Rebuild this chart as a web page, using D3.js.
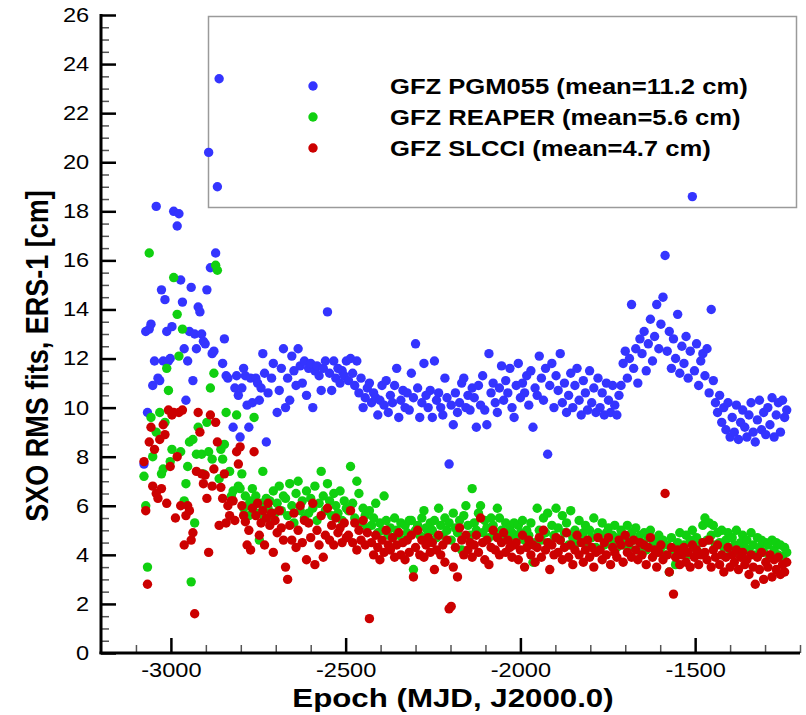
<!DOCTYPE html>
<html><head><meta charset="utf-8">
<script src="https://cdn.jsdelivr.net/npm/d3@7"></script>
<style>html,body{margin:0;padding:0;background:#fff;}</style>
</head><body><svg id="c" width="806" height="715"></svg>
<script>
// Epochs (MJD, J2000.0)
const epochs = [
-3077,-3072,-3067,-3062,-3057,-3052,-3047,-3042,
-3037,-3032,-3027,-3022,-3017,-3012,-3007,-3002,
-2997,-2992,-2987,-2982,-2977,-2972,-2967,-2962,
-2957,-2952,-2947,-2942,-2937,-2932,-2927,-2922,
-2917,-2912,-2907,-2902,-2897,-2892,-2887,-2882,
-2877,-2872,-2867,-2862,-2857,-2852,-2847,-2842,
-2837,-2832,-2827,-2822,-2817,-2812,-2807,-2802,
-2797,-2792,-2787,-2782,-2777,-2772,-2767,-2762,
-2757,-2752,-2747,-2742,-2737,-2732,-2727,-2722,
-2717,-2712,-2707,-2702,-2696,-2690,-2684,-2678,
-2672,-2666,-2660,-2654,-2648,-2642,-2636,-2630,-2624,-2618,
-2612,-2606,-2600,-2594,-2588,-2582,-2576,-2570,-2564,-2558,
-2552,-2546,-2540,-2534,-2528,-2522,-2516,-2510,-2504,-2498,
-2492,-2486,-2480,-2474,-2468,-2462,-2456,-2450,-2444,-2438,
-2432,-2426,-2420,-2414,-2408,-2402,-2396,-2390,-2384,-2378,
-2372,-2366,-2360,-2354,-2348,-2342,-2336,-2330,-2324,-2318,
-2312,-2306,-2300,-2294,-2288,-2282,-2276,-2270,-2264,-2258,
-2252,-2246,-2240,-2234,-2228,-2222,-2216,-2210,-2204,-2198,
-2192,-2186,-2180,-2174,-2168,-2162,-2156,-2150,-2144,-2138,
-2132,-2126,-2120,-2114,-2108,-2102,-2096,-2090,-2084,-2078,
-2072,-2066,-2060,-2054,-2048,-2042,-2036,-2030,-2024,-2018,
-2012,-2006,-2000,-1994,-1988,-1982,-1976,-1970,-1964,-1958,
-1952,-1946,-1940,-1934,-1928,-1922,-1916,-1910,-1904,-1898,
-1892,-1886,-1880,-1874,-1868,-1862,-1856,-1850,-1844,-1838,
-1832,-1826,-1820,-1814,-1808,-1802,-1796,-1790,-1784,-1778,
-1772,-1766,-1760,-1754,-1748,-1742,-1736,-1730,-1724,-1718,
-1712,-1706,-1700,-1694,-1688,-1682,-1676,-1670,-1664,-1658,
-1652,-1646,-1640,-1634,-1628,-1622,-1616,-1610,-1604,-1598,
-1592,-1586,-1580,-1574,-1568,-1562,-1556,-1550,-1544,-1538,
-1532,-1526,-1520,-1514,-1508,-1502,-1496,-1490,-1484,-1478,
-1472,-1466,-1460,-1454,-1448,-1442,-1436,-1430,-1424,-1418,
-1412,-1406,-1400,-1394,-1388,-1382,-1376,-1370,-1364,-1358,
-1352,-1346,-1340,-1334,-1328,-1322,-1316,-1310,-1304,-1298,
-1292,-1286,-1280,-1274,-1268,-1262,-1256,-1250,-1244,-1238
];

// GFZ PGM055 SXO RMS fits [cm]
const pgm055 = [
7.7,13.1,9.8,13.2,13.4,10.9,11.9,18.2,
11.2,11.1,14.8,11.9,14.4,13.1,11.9,12.0,
13.3,18.0,null,17.4,17.9,15.2,14.3,12.4,
10.3,11.9,13.1,14.9,11.1,13.0,12.4,14.1,
13.9,13.0,12.7,12.6,14.8,20.4,15.7,12.2,
12.3,16.3,19.0,23.4,null,11.8,12.8,11.3,
11.2,null,null,9.2,10.8,11.3,10.5,8.8,
10.8,11.6,11.3,10.1,9.2,11.2,10.2,null,
11.2,11.0,10.3,10.8,12.2,11.4,8.6,10.6,
null,11.2,11.8,null,9.8,10.7,11.6,12.4,
10.0,11.2,10.3,12.1,11.5,10.9,12.4,11.7,11.0,11.9,
10.5,11.6,11.8,10.0,11.5,11.7,11.3,10.7,11.6,11.9,
13.9,11.4,10.7,11.9,11.2,11.6,11.0,11.5,11.3,11.9,
11.1,12.0,11.4,10.9,11.9,10.6,11.2,10.0,10.4,10.8,
11.0,10.2,10.6,10.4,9.7,10.3,10.9,10.1,11.1,9.8,
10.5,10.2,10.9,11.6,9.6,10.3,10.7,10.0,10.6,9.9,
11.4,10.4,12.6,10.8,9.6,10.2,11.8,10.5,10.0,10.7,
9.6,11.9,10.3,10.6,10.0,9.7,11.2,10.4,7.7,10.1,
9.3,10.6,9.8,10.2,11.0,11.2,10.0,10.5,9.9,10.8,
10.4,9.2,10.9,10.1,11.3,9.9,9.3,12.2,10.6,11.0,
10.2,9.8,10.8,11.7,10.3,11.1,10.6,11.6,10.0,9.6,
10.9,11.8,10.4,11.0,10.6,11.3,10.1,11.5,9.2,10.8,
10.5,12.1,11.2,10.3,11.6,8.1,10.9,11.8,10.0,11.3,
10.7,12.2,10.2,11.0,9.8,10.5,11.4,10.0,10.9,11.6,
10.3,9.7,11.1,10.6,9.9,11.5,10.2,10.8,9.8,11.2,
10.0,10.6,9.7,11.0,10.3,9.8,10.9,10.1,9.7,10.5,
10.9,11.8,12.3,11.2,12.0,14.2,11.6,12.4,11.0,12.8,
12.2,13.1,11.5,12.6,13.6,11.9,12.9,14.2,12.4,13.4,
14.5,16.2,12.3,13.1,11.6,12.8,12.0,13.8,11.4,12.5,
11.8,12.9,11.2,12.3,18.6,11.5,12.6,10.9,11.9,12.2,
11.3,12.4,10.6,14.0,11.1,10.2,9.8,10.5,9.4,10.0,
9.1,10.2,8.8,9.6,9.0,10.1,8.7,9.4,9.9,9.2,
8.8,9.7,10.2,9.0,8.6,9.5,10.3,9.1,9.8,8.9,
10.0,9.3,10.4,8.8,9.7,10.2,9.0,10.3,9.6,9.9
];

// GFZ REAPER SXO RMS fits [cm]
const reaper = [
7.2,6.0,3.5,16.3,9.6,8.0,null,9.0,
null,9.8,7.3,7.5,9.4,11.6,10.7,7.8,
8.3,15.3,null,13.8,12.1,8.2,13.2,6.2,
6.9,7.6,8.6,2.9,8.7,5.3,8.1,9.2,
null,8.1,7.3,null,9.4,8.2,10.8,7.9,
11.4,15.8,15.6,7.1,8.3,7.9,8.5,9.8,
null,7.4,6.4,6.6,null,9.7,6.8,6.7,
7.3,5.9,6.4,6.0,5.6,6.2,6.7,9.6,
6.4,5.7,4.6,6.1,7.4,5.5,6.3,5.9,
6.2,5.4,6.6,5.7,6.1,6.8,5.8,6.4,
6.3,5.6,6.9,6.0,5.3,6.5,7.0,5.8,6.2,5.5,
6.6,5.7,6.3,5.9,6.8,5.4,6.1,7.4,6.4,5.8,
6.9,6.2,5.6,6.5,6.0,5.7,6.6,5.4,6.2,5.9,
5.8,7.6,6.1,5.5,7.0,6.5,5.3,5.9,5.6,5.1,
5.8,5.2,5.5,6.1,4.9,5.3,5.0,6.4,5.4,4.8,
5.1,4.7,5.5,5.0,4.8,5.3,4.6,5.2,4.9,5.4,
5.4,3.4,5.0,5.2,4.8,5.5,5.8,5.1,4.9,5.3,
5.0,5.4,4.7,5.9,5.2,4.8,5.5,5.0,5.3,4.6,
5.7,5.1,4.9,5.4,4.2,5.6,6.0,5.2,4.8,6.7,
5.3,5.0,5.7,6.0,4.9,5.4,5.1,4.7,5.5,5.2,
4.9,5.9,5.5,5.0,4.6,5.3,4.8,5.1,4.9,5.3,
4.7,5.2,4.9,5.4,4.6,5.0,4.8,5.3,3.7,4.5,
5.9,5.0,4.6,5.5,4.9,5.7,4.5,5.2,4.8,5.9,
5.1,4.6,5.6,4.9,5.3,4.4,5.8,4.7,5.0,4.5,
5.4,4.6,4.9,5.2,4.4,5.0,4.7,5.5,4.3,4.9,
4.8,5.3,4.4,4.9,5.1,4.5,4.8,5.2,4.3,4.7,
5.0,4.4,4.7,5.2,4.3,4.9,4.6,5.1,4.2,4.8,
4.5,4.9,4.2,4.7,5.0,4.4,4.6,4.1,4.8,4.3,
4.6,4.0,4.4,3.3,4.7,4.2,3.6,4.5,4.9,4.1,
4.4,4.8,4.0,4.6,5.0,4.3,4.7,4.1,4.5,5.2,
5.5,4.6,5.3,4.8,5.2,4.4,4.9,4.5,5.0,4.3,
4.6,4.9,4.2,4.7,4.4,5.0,4.1,4.5,4.8,4.3,
4.6,4.2,4.9,4.4,4.0,4.7,4.3,4.6,4.1,4.5,
4.4,3.9,4.6,4.2,4.5,4.0,4.4,3.9,4.3,4.1
];

// GFZ SLCCI SXO RMS fits [cm]
const slcci = [
7.8,5.8,2.8,8.6,9.2,6.8,8.3,6.5,
6.3,8.7,6.7,9.3,8.9,6.1,9.9,7.6,
9.7,9.8,5.5,8.0,9.8,6.0,9.9,4.4,
5.6,6.0,5.8,4.6,4.9,1.6,7.4,9.8,
9.0,7.3,6.9,7.25,6.3,4.1,9.7,6.8,
7.5,9.4,8.6,5.2,6.75,6.3,7.3,5.3,
6.0,5.6,6.2,6.2,5.4,8.2,7.7,8.4,
6.0,5.6,5.35,4.4,5.0,4.2,5.9,8.2,
5.6,6.1,4.8,5.3,5.8,4.4,5.5,6.1,
5.2,5.7,4.1,5.4,4.9,5.8,5.1,4.6,
3.5,3.0,5.2,4.6,5.7,4.3,5.0,6.0,4.5,5.4,
3.8,5.3,4.7,6.1,3.6,5.0,4.4,5.6,3.9,4.8,
5.9,4.6,5.2,4.4,5.5,4.9,5.1,4.5,5.3,4.7,
4.8,5.8,4.5,5.3,4.2,5.0,4.6,5.4,4.4,4.9,
1.4,4.5,4.0,4.8,4.3,3.8,4.6,4.1,5.0,4.4,
4.2,4.7,3.9,4.4,4.9,4.0,4.5,3.8,4.6,4.1,
4.8,3.1,4.3,5.0,4.0,4.6,3.9,4.4,4.7,4.1,
4.5,3.4,4.2,4.8,4.0,4.4,3.7,4.6,1.8,1.9,
3.5,4.3,3.1,5.1,4.6,4.0,4.8,4.2,4.5,3.9,
4.4,4.8,4.1,5.5,4.5,3.8,4.6,3.6,4.3,5.0,
4.2,4.7,4.0,4.5,4.9,4.1,4.6,4.3,3.9,4.4,
4.5,3.8,4.2,4.8,3.5,4.3,4.6,4.0,4.4,3.7,
4.3,4.7,3.9,5.0,4.2,4.5,3.4,4.4,4.0,4.7,
4.1,4.6,3.8,4.3,4.9,3.9,4.4,3.6,4.2,4.8,
4.0,4.5,3.7,4.2,4.6,3.9,4.3,3.5,4.1,4.7,
4.2,3.8,4.5,4.0,4.7,3.6,4.3,4.1,3.9,4.6,
4.4,3.7,4.8,4.1,4.5,3.9,4.6,4.2,3.8,4.5,
4.0,4.4,3.6,4.3,4.7,3.9,4.2,3.5,4.1,4.4,
3.8,6.5,4.0,3.3,4.3,2.4,3.9,4.2,3.6,4.0,
4.3,3.7,4.1,3.5,4.4,3.9,4.2,3.6,4.0,4.5,
4.1,3.8,4.6,3.5,4.2,3.9,4.4,3.6,4.0,3.3,
3.9,4.3,3.5,4.0,3.7,4.2,3.4,3.9,4.1,3.6,
3.8,3.2,4.0,3.5,2.8,3.9,3.4,4.1,3.0,3.7,
3.5,4.0,3.1,3.8,3.4,3.9,3.2,3.6,3.3,3.7
];

const seriesNames = ["GFZ PGM055 (mean=11.2 cm)", "GFZ REAPER (mean=5.6 cm)", "GFZ SLCCI (mean=4.7 cm)"];
const seriesValues = [pgm055, reaper, slcci];
const seriesColors = ["#3434ff", "#10d010", "#cc0000"];
const xMajorTicks = [-3000, -2500, -2000, -1500];
const xMinorTicks = [-3100,-2900,-2800,-2700,-2600,-2400,-2300,-2200,-2100,-1900,-1800,-1700,-1600,-1400,-1300,-1200];
const yMajorTicks = [0,2,4,6,8,10,12,14,16,18,20,22,24,26];
const yMinorTicks = [0.5,1,1.5,2.5,3,3.5,4.5,5,5.5,6.5,7,7.5,8.5,9,9.5,10.5,11,11.5,12.5,13,13.5,14.5,15,15.5,16.5,17,17.5,18.5,19,19.5,20.5,21,21.5,22.5,23,23.5,24.5,25,25.5];

const FONT = "'Liberation Sans', Arial, Helvetica, sans-serif";
const SX = 1.18; // horizontal stretch of text in the reference

const svg = d3.select("#c");
const x = d3.scaleLinear().domain([-3200, -1200]).range([101, 800]);
const y = d3.scaleLinear().domain([0, 26]).range([653, 15]);

// legend box (behind the points)
svg.append("rect").attr("x", 208.5).attr("y", 16.5).attr("width", 588).attr("height", 191)
  .attr("fill", "#fff").attr("stroke", "#9a9a9a").attr("stroke-width", 1.5);

// points
seriesValues.forEach((vals, i) => {
  const pts = epochs.map((e, k) => ({e: e, v: vals[k]})).filter(d => d.v !== null && d.v !== undefined);
  svg.append("g").selectAll("circle").data(pts).join("circle")
    .attr("cx", d => x(d.e)).attr("cy", d => y(d.v)).attr("r", 4.7)
    .attr("fill", seriesColors[i]);
});

// axes
const gx = svg.append("g").attr("transform", "translate(0,653)");
gx.call(d3.axisBottom(x).tickValues(xMinorTicks).tickSizeInner(-8).tickSizeOuter(0).tickFormat(""));
gx.selectAll(".tick line").attr("stroke", "#555").attr("stroke-width", 1.5);
gx.select(".domain").remove();
const gx2 = svg.append("g").attr("transform", "translate(0,653)");
gx2.call(d3.axisBottom(x).tickValues(xMajorTicks).tickSizeInner(-15).tickSizeOuter(0).tickPadding(10).tickFormat(d => String(d)));
gx2.select(".domain").remove();
gx2.selectAll(".tick line").attr("stroke", "#000").attr("stroke-width", 2.5);
gx2.selectAll(".tick text").attr("font-family", FONT).attr("font-size", 20).attr("fill", "#000")
  .attr("transform", `scale(${SX},1)`);

const gy = svg.append("g").attr("transform", "translate(101,0)");
gy.call(d3.axisLeft(y).tickValues(yMinorTicks).tickSizeInner(-8).tickSizeOuter(0).tickFormat(""));
gy.selectAll(".tick line").attr("stroke", "#555").attr("stroke-width", 1.5);
gy.select(".domain").remove();
const gy2 = svg.append("g").attr("transform", "translate(101,0)");
gy2.call(d3.axisLeft(y).tickValues(yMajorTicks).tickSizeInner(-15).tickSizeOuter(0).tickPadding(10).tickFormat(d => String(d)));
gy2.select(".domain").remove();
gy2.selectAll(".tick line").attr("stroke", "#000").attr("stroke-width", 2.5);
gy2.selectAll(".tick text").attr("font-family", FONT).attr("font-size", 20).attr("fill", "#000")
  .attr("transform", `scale(${SX},1)`);

// axis lines
svg.append("line").attr("x1", 101).attr("x2", 101).attr("y1", 14).attr("y2", 654).attr("stroke", "#000").attr("stroke-width", 3);
svg.append("line").attr("x1", 99.5).attr("x2", 800).attr("y1", 653).attr("y2", 653).attr("stroke", "#000").attr("stroke-width", 3);

// axis titles
svg.append("text").attr("transform", `translate(453,707) scale(${SX},1)`)
  .attr("text-anchor", "middle").attr("font-family", FONT).attr("font-weight", "bold").attr("font-size", 26.5)
  .text("Epoch (MJD, J2000.0)");
svg.append("text").attr("transform", `translate(48,356) scale(${SX},1) rotate(-90)`)
  .attr("text-anchor", "middle").attr("font-family", FONT).attr("font-weight", "bold").attr("font-size", 27)
  .text("SXO RMS fits, ERS-1 [cm]");

// legend entries
const legendRows = [86, 117, 148];
seriesNames.forEach((name, i) => {
  svg.append("circle").attr("cx", 313).attr("cy", legendRows[i]).attr("r", 4.7).attr("fill", seriesColors[i]);
  svg.append("text").attr("transform", `translate(390,${legendRows[i] + 7.5}) scale(${SX},1)`)
    .attr("font-family", FONT).attr("font-weight", "bold").attr("font-size", 21.7).attr("fill", "#000")
    .text(name);
});

if (pgm055.length !== epochs.length || reaper.length !== epochs.length || slcci.length !== epochs.length) {
  throw new Error("length mismatch " + epochs.length + " " + pgm055.length + " " + reaper.length + " " + slcci.length);
}
</script></body></html>
